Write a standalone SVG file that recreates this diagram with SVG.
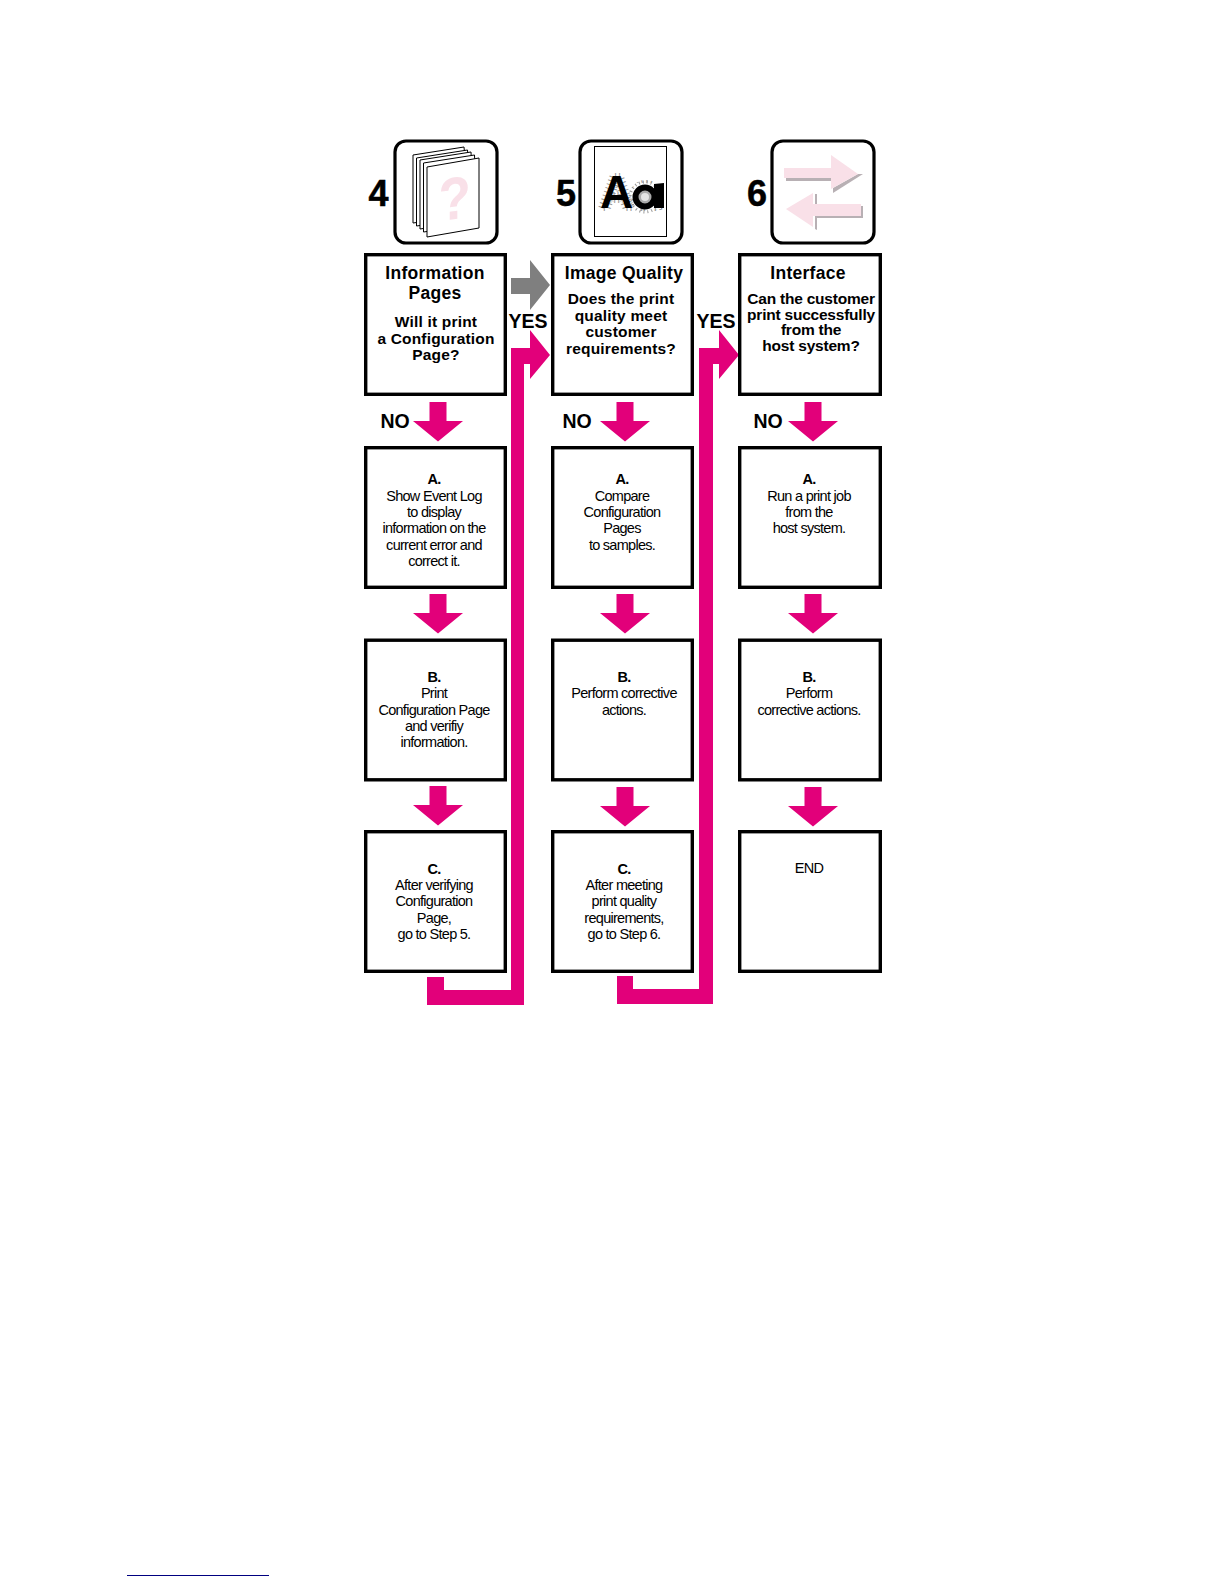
<svg xmlns="http://www.w3.org/2000/svg" width="1224" height="1584" viewBox="0 0 1224 1584">
<defs>
<style>
text{font-family:"Liberation Sans",Arial,sans-serif;text-anchor:middle;fill:#000}
.box{fill:#fff;stroke:#000;stroke-width:3.4}
.icon{fill:#fff;stroke:#000;stroke-width:3.2}
.h{font-size:17.5px;font-weight:bold;letter-spacing:.28px}
.q{font-size:15.5px;font-weight:bold;letter-spacing:.18px}
.q6{font-size:15.5px;font-weight:bold;letter-spacing:-.22px}
.b{font-size:14.5px;letter-spacing:-.72px}
.lab{font-size:19.5px;font-weight:bold}
.num{font-size:36px;font-weight:bold;stroke:#000;stroke-width:.5}
.m{fill:#e2007a}
.pg{fill:#fff;stroke:#000;stroke-width:1}
.sh{fill:#b8b0b4}
.pk{fill:#f9e0e8}
</style>
<polygon id="down" class="m" points="-8.5,0 8.5,0 8.5,19 25,19 0,39.500 -25,19 -8.5,19"/>
</defs>
<rect width="1224" height="1584" fill="#fff"/>
<g id="connectors">
<use href="#down" x="438" y="402"/>
<use href="#down" x="438" y="594"/>
<use href="#down" x="438" y="786"/>
<use href="#down" x="625" y="402"/>
<use href="#down" x="625" y="594"/>
<use href="#down" x="625" y="787"/>
<use href="#down" x="813" y="402"/>
<use href="#down" x="813" y="594"/>
<use href="#down" x="813" y="787"/>
<polygon fill="#7f7f7f" points="511,278 530,278 530,260 550,285 530,310 530,294 511,294"/>
<polygon class="m" points="427,977 444,977 444,990 511,990 511,348 530,348 530,330 550,355 530,379 530,364 524,364 524,1005 427,1005"/>
<polygon class="m" points="617,976 633,976 633,989 699,989 699,348 719,348 719,330 739,355 719,379 719,364 713,364 713,1004 617,1004"/>
</g>
<g id="icon4">
<rect class="icon" x="395" y="141" width="102" height="102" rx="11"/>
<polygon class="pg" points="413,155 464,147 470,215 413,223"/>
<polygon class="pg" points="416.500,158 467.500,150 472,218 416.500,226"/>
<polygon class="pg" points="420,160 471,152 474,221 420,229"/>
<polygon class="pg" points="423.500,163 474.500,155 477,224 423.500,232"/>
<polygon class="pg" points="427,167 479,158 479,228 427,237"/>
<text transform="translate(454.500,219) scale(.88,1) skewY(-6)" font-size="60" font-weight="bold" style="fill:#f9e0e8">?</text>
</g>
<g id="icon5">
<rect class="icon" x="580" y="141" width="102" height="102" rx="11"/>
<rect x="594.500" y="146.500" width="72" height="90" fill="#fff" stroke="#000"/>
<text x="600" y="208" font-size="46" font-weight="bold" style="text-anchor:start;paint-order:stroke" stroke="#999" stroke-width="6" stroke-dasharray="1 3">Aa</text>
<rect x="634" y="183" width="27" height="26" fill="#fff"/>
<circle cx="645" cy="197" r="15" fill="none" stroke="#999" stroke-width="3" stroke-dasharray="1 3"/>
<circle cx="645" cy="197" r="9.500" fill="#aaa" stroke="#000" stroke-width="6"/>
<circle cx="645" cy="197" r="4" fill="#e4e4e4"/>
<polygon points="654,184 664,183 664,208 654,208"/>
</g>
<g id="icon6">
<polygon class="sh" points="786,178 831,178 831,181 786,181"/>
<polygon class="sh" points="833,188 858,174 863,174 833,193"/>
<polygon class="pk" points="784,168 831,168 831,155 858,174 831,189 831,178 784,178"/>
<polygon class="sh" points="815,194 817,194 817,206 815,206"/>
<polygon class="sh" points="815,216 861,216 861,206 863,206 863,218 817,218 817,230 815,229"/>
<polygon class="pk" points="786,209 813,193 813,204 861,204 861,216 813,216 813,227"/>
<rect class="icon" x="772" y="141" width="102" height="102" rx="11" fill-opacity="0"/>
</g>
<text class="num" x="378.500" y="206">4</text>
<text class="num" x="566" y="206">5</text>
<text class="num" x="757" y="206">6</text>
<g id="step4">
<rect class="box" x="365.700" y="254.700" width="139.600" height="139.600"/>
<text class="h" x="435" y="279">Information</text>
<text class="h" x="435" y="299">Pages</text>
<text class="q" x="436" y="327">Will it print</text>
<text class="q" x="436" y="344">a Configuration</text>
<text class="q" x="436" y="360">Page?</text>
</g>
<g id="step5">
<rect class="box" x="552.700" y="254.700" width="139.600" height="139.600"/>
<text class="h" x="624" y="279">Image Quality</text>
<text class="q" x="621" y="304">Does the print</text>
<text class="q" x="621" y="321">quality meet</text>
<text class="q" x="621" y="337">customer</text>
<text class="q" x="621" y="354">requirements?</text>
</g>
<g id="step6">
<rect class="box" x="739.700" y="254.700" width="140.600" height="139.600"/>
<text class="h" x="808" y="279">Interface</text>
<text class="q6" x="811" y="304">Can the customer</text>
<text class="q6" x="811" y="320">print successfully</text>
<text class="q6" x="811" y="335">from the</text>
<text class="q6" x="811" y="351">host system?</text>
</g>
<g id="step4a">
<rect class="box" x="365.700" y="447.700" width="139.600" height="139.600"/>
<text class="b" x="434" y="484" font-weight="bold">A.</text>
<text class="b" x="434" y="501">Show Event Log</text>
<text class="b" x="434" y="517">to display</text>
<text class="b" x="434" y="533">information on the</text>
<text class="b" x="434" y="550">current error and</text>
<text class="b" x="434" y="566">correct it.</text>
</g>
<g id="step5a">
<rect class="box" x="552.700" y="447.700" width="139.600" height="139.600"/>
<text class="b" x="622" y="484" font-weight="bold">A.</text>
<text class="b" x="622" y="501">Compare</text>
<text class="b" x="622" y="517">Configuration</text>
<text class="b" x="622" y="533">Pages</text>
<text class="b" x="622" y="550">to samples.</text>
</g>
<g id="step6a">
<rect class="box" x="739.700" y="447.700" width="140.600" height="139.600"/>
<text class="b" x="809" y="484" font-weight="bold">A.</text>
<text class="b" x="809" y="501">Run a print job</text>
<text class="b" x="809" y="517">from the</text>
<text class="b" x="809" y="533">host system.</text>
</g>
<g id="step4b">
<rect class="box" x="365.700" y="640.200" width="139.600" height="139.600"/>
<text class="b" x="434" y="682" font-weight="bold">B.</text>
<text class="b" x="434" y="698">Print</text>
<text class="b" x="434" y="715">Configuration Page</text>
<text class="b" x="434" y="731">and verifiy</text>
<text class="b" x="434" y="747">information.</text>
</g>
<g id="step5b">
<rect class="box" x="552.700" y="640.200" width="139.600" height="139.600"/>
<text class="b" x="624" y="682" font-weight="bold">B.</text>
<text class="b" x="624" y="698">Perform corrective</text>
<text class="b" x="624" y="715">actions.</text>
</g>
<g id="step6b">
<rect class="box" x="739.700" y="640.200" width="140.600" height="139.600"/>
<text class="b" x="809" y="682" font-weight="bold">B.</text>
<text class="b" x="809" y="698">Perform</text>
<text class="b" x="809" y="715">corrective actions.</text>
</g>
<g id="step4c">
<rect class="box" x="365.700" y="831.700" width="139.600" height="139.600"/>
<text class="b" x="434" y="874" font-weight="bold">C.</text>
<text class="b" x="434" y="890">After verifying</text>
<text class="b" x="434" y="906">Configuration</text>
<text class="b" x="434" y="923">Page,</text>
<text class="b" x="434" y="939">go to Step 5.</text>
</g>
<g id="step5c">
<rect class="box" x="552.700" y="831.700" width="139.600" height="139.600"/>
<text class="b" x="624" y="874" font-weight="bold">C.</text>
<text class="b" x="624" y="890">After meeting</text>
<text class="b" x="624" y="906">print quality</text>
<text class="b" x="624" y="923">requirements,</text>
<text class="b" x="624" y="939">go to Step 6.</text>
</g>
<g id="end">
<rect class="box" x="739.700" y="831.700" width="140.600" height="139.600"/>
<text class="b" x="809" y="873">END</text>
</g>
<text class="lab" x="395" y="428">NO</text>
<text class="lab" x="577" y="428">NO</text>
<text class="lab" x="768" y="428">NO</text>
<text class="lab" x="528" y="328">YES</text>
<text class="lab" x="716" y="328">YES</text>
<line x1="127" y1="1575.500" x2="269" y2="1575.500" stroke="#000080" stroke-width="1"/>
</svg>
